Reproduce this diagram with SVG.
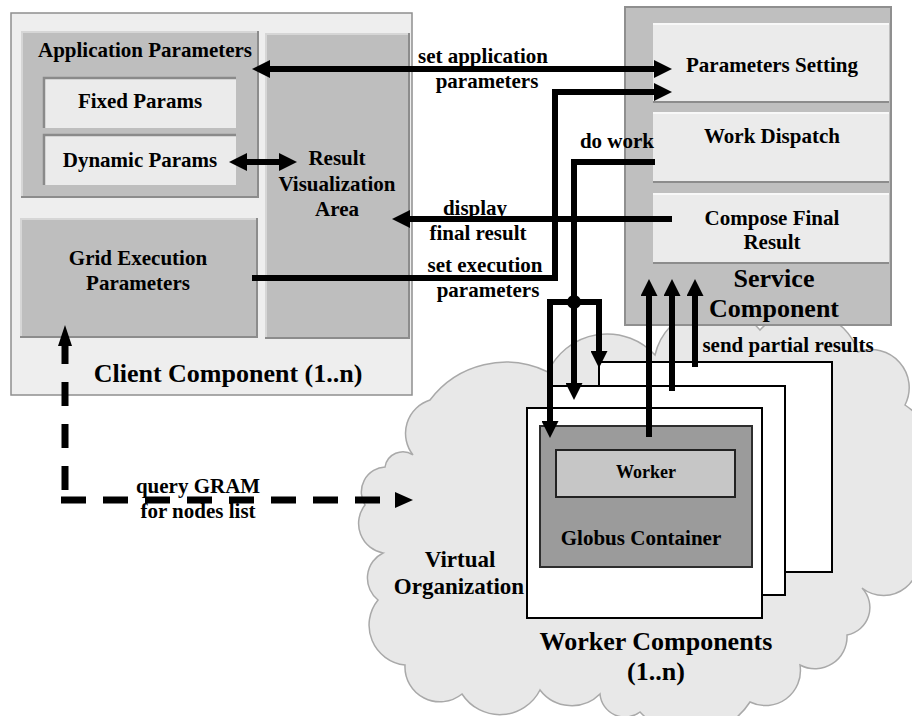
<svg xmlns="http://www.w3.org/2000/svg" width="912" height="716" viewBox="0 0 912 716">
  <defs>
    <style>
      .t { font-family: "Liberation Serif", "Times New Roman", serif; font-weight: bold; fill: #000; text-anchor: middle; }
      .s18 { font-size: 18px; }
      .s21 { font-size: 21px; }
      .s23 { font-size: 23px; }
      .s26 { font-size: 26px; }
      .raised { fill: #bebebe; }
      .light { fill: #ebebeb; }
      .hi { fill: none; stroke: #d6d6d6; stroke-width: 2; }
      .lo { fill: none; stroke: #8c8c8c; stroke-width: 2; }
      .inset { fill: none; stroke: #8a8a8a; stroke-width: 2.5; }
      .card { fill: #fff; stroke: #000; stroke-width: 2; }
      .wire { fill: none; stroke: #000; stroke-width: 6; stroke-linejoin: miter; }
      .dash { fill: none; stroke: #000; stroke-width: 7; }
    </style>
    <!-- horizontal arrowhead: tip sits 16px past the line end -->
    <marker id="ah" viewBox="0 -9 18 18" refX="2" refY="0" markerWidth="18" markerHeight="18" markerUnits="userSpaceOnUse" orient="auto-start-reverse">
      <path d="M0,-9 L18,0 L0,9 z" fill="#000"/>
    </marker>
    <!-- vertical arrowhead: tip sits 15px past the line end -->
    <marker id="av" viewBox="0 -8.5 17 17" refX="2" refY="0" markerWidth="17" markerHeight="17" markerUnits="userSpaceOnUse" orient="auto-start-reverse">
      <path d="M0,-8.5 L17,0 L0,8.5 z" fill="#000"/>
    </marker>
  </defs>

  <rect width="912" height="716" fill="#fff"/>

  <!-- Virtual Organization cloud -->
  <g id="virtual-organization">
    <path d="M413,455 A35,35 0 0 1 430,400 A95,95 0 0 1 548,372 A65,65 0 0 1 655,355 A60,60 0 0 1 760,330 A58,58 0 0 1 858,352 A38,38 0 0 1 905,405 A90,90 0 0 1 915,545 A35,35 0 0 1 862,588 A28,28 0 0 1 847,635 A32,32 0 0 1 800,665 A35,35 0 0 1 750,702 A70,70 0 0 1 640,712 A25,25 0 0 1 600,694 A40,40 0 0 1 540,690 A45,45 0 0 1 462,694 A35,35 0 0 1 405,665 A40,40 0 0 1 378,600 A28,28 0 0 1 383,553 A30,30 0 0 1 365,505 A25,25 0 0 1 385,467 A18,18 0 0 1 413,455 Z" fill="#e8e8e8" stroke="#a9a9a9" stroke-width="1.5"/>
    <text class="t s23" x="460" y="567">Virtual</text>
    <text class="t s23" x="459" y="594">Organization</text>
  </g>

  <!-- Client Component -->
  <g id="client-component">
    <rect x="11" y="13" width="401" height="382" fill="#eeeeee" stroke="#8f8f8f" stroke-width="1.5"/>
    <text class="t s26" x="228" y="382">Client Component (1..n)</text>
  </g>

  <g id="application-parameters">
    <rect class="raised" x="21" y="31" width="237" height="166"/>
    <path class="hi" d="M22,196 V32 H257"/>
    <path class="lo" d="M21,197 H258 V31"/>
    <text class="t s21" x="145" y="57">Application Parameters</text>
  </g>

  <g id="fixed-params">
    <rect class="light" x="43" y="77" width="193" height="51"/>
    <path class="inset" d="M44,128 V78 H236"/>
    <text class="t s21" x="140" y="108">Fixed Params</text>
  </g>

  <g id="dynamic-params">
    <rect class="light" x="43" y="134" width="193" height="51"/>
    <path class="inset" d="M44,185 V135 H236"/>
    <text class="t s21" x="140" y="167">Dynamic Params</text>
  </g>

  <g id="result-visualization-area">
    <rect class="raised" x="265" y="33" width="144" height="305"/>
    <path class="hi" d="M266,337 V34 H408"/>
    <path class="lo" d="M265,338 H409 V33"/>
    <text class="t s21" x="337" y="165">Result</text>
    <text class="t s21" x="337" y="191">Visualization</text>
    <text class="t s21" x="337" y="216">Area</text>
  </g>

  <g id="grid-execution-parameters">
    <rect class="raised" x="20" y="218" width="237" height="119"/>
    <path class="hi" d="M21,336 V219 H256"/>
    <path class="lo" d="M20,337 H257 V218"/>
    <text class="t s21" x="138" y="265">Grid Execution</text>
    <text class="t s21" x="138" y="290">Parameters</text>
  </g>

  <!-- Service Component -->
  <g id="service-component">
    <rect x="625" y="7" width="266" height="318" fill="#bfbfbf" stroke="#8f8f8f" stroke-width="2"/>
    <text class="t s26" x="774" y="287">Service</text>
    <text class="t s26" x="774" y="317">Component</text>
  </g>

  <g id="parameters-setting">
    <rect class="light" x="653" y="23" width="236" height="79"/>
    <path d="M653,24 H889" stroke="#f8f8f8" stroke-width="2"/>
    <path class="lo" d="M653,102 H889"/>
    <text class="t s21" x="772" y="72">Parameters Setting</text>
  </g>

  <g id="work-dispatch">
    <rect class="light" x="653" y="112" width="236" height="70"/>
    <path d="M653,113 H889" stroke="#f8f8f8" stroke-width="2"/>
    <path class="lo" d="M653,182 H889"/>
    <text class="t s21" x="772" y="143">Work Dispatch</text>
  </g>

  <g id="compose-final-result">
    <rect class="light" x="653" y="193" width="236" height="70"/>
    <path d="M653,194 H889" stroke="#f8f8f8" stroke-width="2"/>
    <path class="lo" d="M653,263 H889"/>
    <text class="t s21" x="772" y="225">Compose Final</text>
    <text class="t s21" x="772" y="249">Result</text>
  </g>

  <!-- Worker Components: stacked instances, front one holds the container -->
  <g id="worker-components">
    <rect class="card" x="599" y="362" width="233" height="210"/>
    <rect class="card" x="550" y="386" width="235" height="209"/>
    <rect class="card" x="527" y="408" width="235" height="210"/>
    <text class="t s26" x="656" y="650">Worker Components</text>
    <text class="t s26" x="656" y="680">(1..n)</text>
  </g>

  <g id="globus-container">
    <rect x="540" y="426" width="212" height="141" fill="#9b9b9b" stroke="#2e2e2e" stroke-width="2"/>
    <text class="t s21" x="641" y="545">Globus Container</text>
  </g>

  <g id="worker">
    <rect x="556" y="450" width="179" height="47" fill="#c6c6c6" stroke="#222" stroke-width="2"/>
    <text class="t s18" x="646" y="478">Worker</text>
  </g>

  <!-- Connectors -->
  <g id="connectors">
    <!-- set application parameters -->
    <path class="wire" d="M268,69 H656" marker-start="url(#ah)" marker-end="url(#ah)"/>
    <!-- dynamic params <-> result area -->
    <path class="wire" d="M245,162 H281" marker-start="url(#ah)" marker-end="url(#ah)"/>
    <!-- set execution parameters -->
    <path class="wire" d="M252,278 H555 V92 H656" marker-end="url(#ah)"/>
    <!-- display final result -->
    <path class="wire" d="M672,219 H408" marker-end="url(#ah)"/>
    <!-- do work: fan-out to the workers -->
    <path class="wire" d="M655,162 H574 V385" marker-end="url(#av)"/>
    <path class="wire" d="M550,423 V302 H599 V353" marker-start="url(#av)" marker-end="url(#av)"/>
    <circle cx="574" cy="302" r="7" fill="#000"/>
    <!-- send partial results -->
    <path class="wire" d="M649,437 V294" marker-end="url(#av)"/>
    <path class="wire" d="M672,391 V294" marker-end="url(#av)"/>
    <path class="wire" d="M695,367 V294" marker-end="url(#av)"/>
    <!-- query GRAM for nodes list -->
    <path class="dash" d="M65,490 V345" stroke-dasharray="24 18"/>
    <polygon points="58,346 65,325 72,346" fill="#000"/>
    <path class="dash" d="M61,500 H380" stroke-dasharray="25 17"/>
    <polygon points="395,492 413,500 395,508" fill="#000"/>

    <text class="t s21" x="483" y="63">set application</text>
    <text class="t s21" x="487" y="88">parameters</text>
    <text class="t s21" x="475" y="215">display</text>
    <text class="t s21" x="478" y="240">final result</text>
    <text class="t s21" x="485" y="272">set execution</text>
    <text class="t s21" x="488" y="297">parameters</text>
    <text class="t s21" x="617" y="148">do work</text>
    <text class="t s21" x="788" y="352">send partial results</text>
    <text class="t s21" x="198" y="493">query GRAM</text>
    <text class="t s21" x="198" y="518">for nodes list</text>
  </g>
</svg>
